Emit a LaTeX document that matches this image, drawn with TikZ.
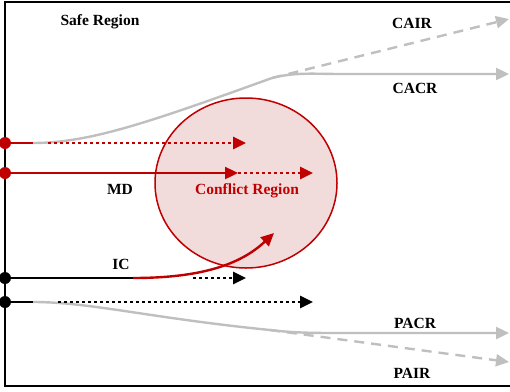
\documentclass[tikz,border=0pt]{standalone}
\usepackage{fontspec}
\setmainfont{Liberation Serif}
\usetikzlibrary{arrows.meta,shapes.geometric}
\definecolor{cred}{HTML}{C00000}
\definecolor{cpink}{HTML}{F2DCDB}
\definecolor{cgray}{HTML}{BFBFBF}
\begin{document}
\begin{tikzpicture}[x=1pt,y=-1pt,
  lbl/.style={font=\fontsize{15.5}{17}\selectfont\bfseries, inner sep=0pt},
  tip/.style={-{Triangle[length=13pt,width=12pt]}},
  ln/.style={line width=2.4pt},
  dotl/.style={line width=2.6pt, dash pattern=on 3pt off 3pt},
  dashl/.style={line width=2.4pt, dash pattern=on 10pt off 7pt},
  dot/.style={circle, inner sep=0pt, minimum size=12pt}]
\useasboundingbox (0,0) rectangle (510,391);
% frame
\draw[line width=2pt] (512,1.5) -- (5,1.5) -- (5,386) -- (512,386);
% conflict region
\node[ellipse, draw=cred, fill=cpink, line width=1.5pt, minimum width=182pt, minimum height=170pt, inner sep=0pt] (cr) at (246,183) {};
\node[lbl, text=cred] (crl) at (247,191) {Conflict Region};
% coordinates
\coordinate (a0) at (5,143);
\coordinate (a1) at (33,143);
\coordinate (a2) at (272,78);
\coordinate (a3) at (509,74);
\coordinate (a4) at (509,19);
\coordinate (d1s) at (48,143);
\coordinate (d1e) at (246,143);
\coordinate (b0) at (5,173);
\coordinate (b1) at (238,173);
\coordinate (b2) at (313,173);
\coordinate (c0) at (5,278);
\coordinate (c1) at (133,278);
\coordinate (c2) at (274,233);
\coordinate (c3) at (193,278);
\coordinate (c4) at (246,278);
\coordinate (e0) at (5,302);
\coordinate (e1) at (33,302);
\coordinate (e2) at (270,330);
\coordinate (e3) at (509,333);
\coordinate (e4) at (509,362);
\coordinate (f1) at (58,302);
\coordinate (f2) at (313,302);
% upper path (CA)
\draw[ln, cgray] (a1) .. controls (90,143) and (150,122) .. (a2);
\draw[ln, cgray, tip] (a2) .. controls (295,72) and (315,74) .. (340,74) -- (a3);
\draw[dashl, cgray, tip] (a2) -- (a4);
\draw[ln, cred] (a0) -- (a1);
\draw[dotl, cred, tip] (d1s) -- (d1e);
% MD
\draw[ln, cred, tip] (b0) -- (b1);
\draw[dotl, cred, tip] (b1) -- (b2);
% IC
\draw[ln, black] (c0) -- (c1);
\draw[ln, cred, tip] (c1) .. controls (200,278) and (240,265) .. (c2);
\draw[dotl, black, tip] (c3) -- (c4);
% lower path (PA)
\draw[ln, cgray] (e1) .. controls (90,302) and (150,318) .. (e2);
\draw[ln, cgray, tip] (e2) .. controls (295,333) and (315,333) .. (340,333) -- (e3);
\draw[dashl, cgray, tip] (e2) -- (e4);
\draw[ln, black] (e0) -- (e1);
\draw[dotl, black, tip] (f1) -- (f2);
% dots
\node[dot, fill=cred] (p1) at (a0) {};
\node[dot, fill=cred] (p2) at (b0) {};
\node[dot, fill=black] (p3) at (c0) {};
\node[dot, fill=black] (p4) at (e0) {};
% labels
\node[lbl] (safe) at (100,22) {Safe Region};
\node[lbl] (cair) at (412,23) {CAIR};
\node[lbl] (cacr) at (415,88) {CACR};
\node[lbl] (md) at (120,189) {MD};
\node[lbl] (ic) at (121,264) {IC};
\node[lbl] (pacr) at (415,323) {PACR};
\node[lbl] (pair) at (412,373) {PAIR};
\end{tikzpicture}
\end{document}
